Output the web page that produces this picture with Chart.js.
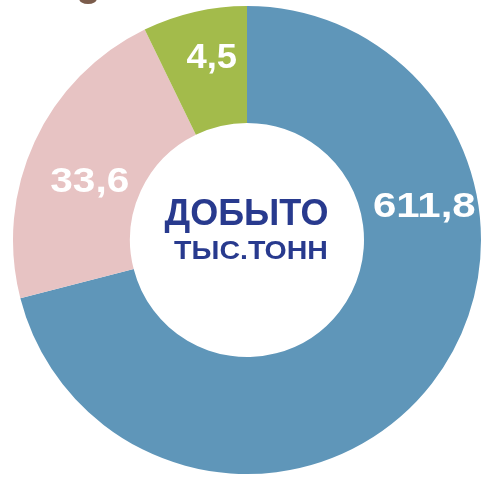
<!DOCTYPE html>
<html>
<head>
<meta charset="utf-8">
<script src="https://cdn.jsdelivr.net/npm/chart.js@4.4.0/dist/chart.umd.min.js"></script>
<style>
  html, body { margin: 0; padding: 0; background: #ffffff; }
  #wrap { position: relative; width: 485px; height: 479px; overflow: hidden; }
  #deco { position: absolute; left: 79px; top: -7px; width: 18px; height: 11px; border-radius: 50%; background: #7b5c4b; }
</style>
</head>
<body>
<div id="wrap">
  <canvas id="c" width="485" height="479"></canvas>
  <div id="deco"></div>
</div>
<script>
// Slice shares as they appear in the picture (clockwise from 12 o'clock)
const categories = ["Blue", "Pink", "Green"];
const sliceShares = [71.0, 21.8, 7.2];
// Value labels printed on the slices
const valueLabels = ["611,8", "33,6", "4,5"];
const sliceColors = ["#5F96B9", "#E7C3C3", "#A3BB4B"];
// Label placement (angle clockwise from top in degrees, radius fraction of outer radius)
const labelAngles = [79.7, 290, 349.0];
const labelRadii = [0.77, 0.715, 0.79];
const labelStretch = [1.2, 1.16, 1.04];
const centerLines = ["ДОБЫТО", "ТЫС.ТОНН"];

function stretchedText(ctx, t, x, y, sx) {
  ctx.save();
  ctx.translate(x, y);
  ctx.scale(sx, 1);
  ctx.fillText(t, 0, 0);
  ctx.restore();
}

const labelPlugin = {
  id: 'labels',
  afterDatasetsDraw(chart) {
    const ctx = chart.ctx;
    const arc = chart.getDatasetMeta(0).data[0];
    const cx = arc.x, cy = arc.y, R = arc.outerRadius;
    ctx.save();
    ctx.fillStyle = '#ffffff';
    ctx.font = 'bold 35px "Liberation Sans", Arial, sans-serif';
    ctx.textAlign = 'center';
    ctx.textBaseline = 'middle';
    valueLabels.forEach((t, i) => {
      const a = labelAngles[i] * Math.PI / 180;
      const r = labelRadii[i] * R;
      stretchedText(ctx, t, cx + r * Math.sin(a), cy - r * Math.cos(a), labelStretch[i]);
    });
    ctx.fillStyle = '#283A8E';
    ctx.font = 'bold 36px "Liberation Sans", Arial, sans-serif';
    stretchedText(ctx, centerLines[0], cx - 0.5, cy - 25, 1.0);
    ctx.font = 'bold 25px "Liberation Sans", Arial, sans-serif';
    stretchedText(ctx, centerLines[1], cx + 4, cy + 12, 1.14);
    ctx.restore();
  }
};

new Chart(document.getElementById('c'), {
  type: 'doughnut',
  data: {
    labels: categories,
    datasets: [{
      data: sliceShares,
      backgroundColor: sliceColors,
      borderWidth: 0
    }]
  },
  options: {
    responsive: false,
    animation: false,
    cutout: '50%',
    layout: { padding: { left: 13, right: 4, top: 6, bottom: 5 } },
    plugins: { legend: { display: false }, tooltip: { enabled: false } }
  },
  plugins: [labelPlugin]
});
</script>
</body>
</html>
